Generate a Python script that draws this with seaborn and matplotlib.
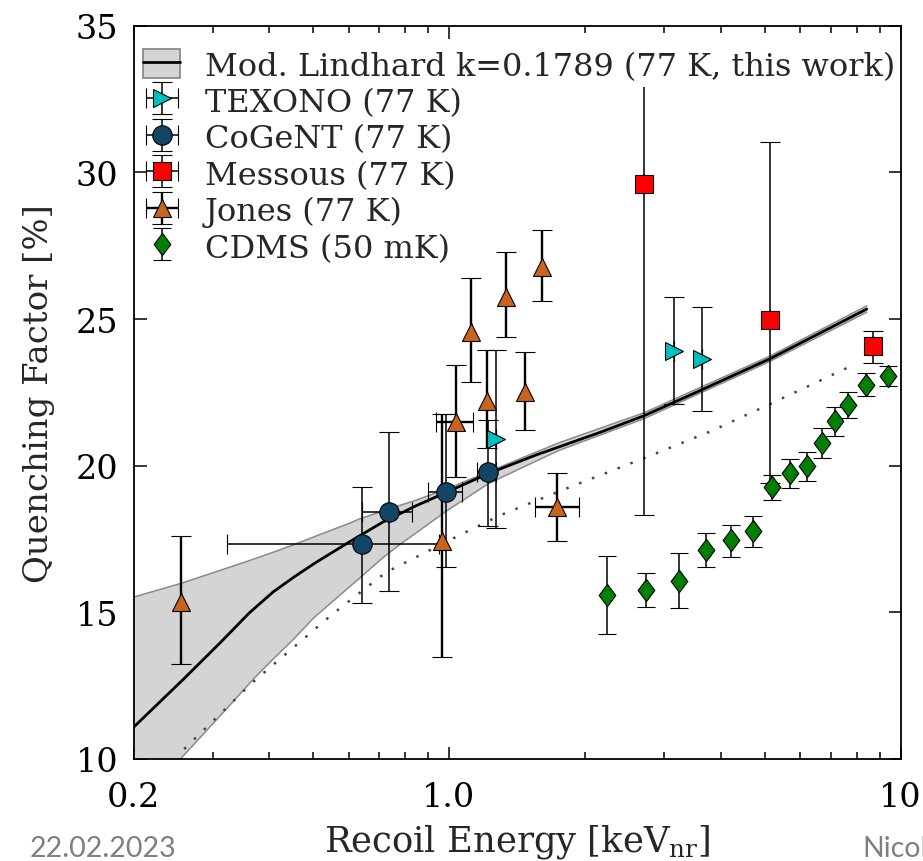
import numpy as np
import pandas as pd
import matplotlib
matplotlib.use("Agg")
import matplotlib.pyplot as plt
import seaborn as sns
from matplotlib.patches import Patch
from matplotlib.lines import Line2D
from matplotlib.ticker import FixedLocator, LogLocator, NullFormatter

sns.set_style("ticks")
plt.rcParams['font.family'] = ['DejaVu Serif']
plt.rcParams['mathtext.fontset'] = 'dejavuserif'

# model curve (keV_nr, %)
lind_e = [0.2, 0.258, 0.312, 0.361, 0.408, 0.455, 0.507, 0.600, 0.712, 0.844, 0.966, 1.216, 1.556, 2.146, 2.70, 3.40, 5.13, 8.42]
lind_q = [11.08, 12.72, 13.98, 14.98, 15.70, 16.22, 16.70, 17.39, 18.07, 18.63, 19.03, 19.72, 20.36, 21.12, 21.70, 22.39, 23.64, 25.34]

# uncertainty band of the model
band_e = [0.2, 0.254, 0.321, 0.37, 0.408, 0.45, 0.503, 0.6, 0.632, 0.712, 0.776, 0.844, 0.986, 1.226, 1.751, 2.70, 5.13, 8.42]
band_hi = [15.52, 15.98, 16.50, 16.82, 17.05, 17.29, 17.58, 18.03, 18.18, 18.45, 18.64, 18.82, 19.20, 19.80, 20.78, 21.80, 23.73, 25.45]
band_lo = [7.9, 10.0, 11.70, 12.75, 13.41, 14.05, 14.83, 15.85, 16.15, 16.85, 17.30, 17.70, 18.45, 19.40, 20.52, 21.60, 23.55, 25.23]

# dotted curve
dot_e = [0.259, 0.367, 0.552, 0.724, 1.052, 1.29, 1.858, 2.677, 3.824, 5.14, 7.80]
dot_q = [10.34, 12.61, 14.94, 16.36, 17.62, 18.29, 19.28, 20.23, 21.19, 22.10, 23.41]

# measurements: energy, QF, lower/upper ends of the error bars
texono_e = [1.27, 3.146, 3.635]
texono_q = [20.91, 23.92, 23.64]
texono_lo = [17.87, 22.10, 21.85]
texono_hi = [23.95, 25.76, 25.42]

cogent_e = [0.643, 0.737, 0.986, 1.222]
cogent_q = [17.33, 18.43, 19.11, 19.77]
cogent_lo = [15.32, 15.72, 16.53, 17.96]
cogent_hi = [19.28, 21.14, 21.76, 21.56]
cogent_elo = [0.322, 0.643, 0.896, 1.155]
cogent_ehi = [0.950, 0.828, 1.070, 1.268]

messous_e = [2.70, 5.13, 8.68]
messous_q = [29.60, 24.98, 24.07]
messous_lo = [18.32, 19.40, 23.50]
messous_hi = [32.90, 31.05, 24.60]

jones_e = [0.2549, 0.964, 1.035, 1.117, 1.215, 1.335, 1.473, 1.608, 1.736]
jones_q = [15.34, 17.44, 21.48, 24.55, 22.21, 25.74, 22.50, 26.76, 18.58]
jones_lo = [13.24, 13.47, 19.60, 22.86, 20.60, 24.38, 21.22, 25.62, 17.44]
jones_hi = [17.59, 21.76, 23.42, 26.39, 23.95, 27.30, 23.89, 28.03, 19.74]
jones_elo = [0.2549, 0.964, 0.934, 1.117, 1.215, 1.335, 1.473, 1.608, 1.550]
jones_ehi = [0.2549, 0.964, 1.130, 1.117, 1.215, 1.335, 1.473, 1.608, 1.940]

cdms_e = [2.233, 2.724, 3.228, 3.717, 4.222, 4.706, 5.19, 5.70, 6.20, 6.70, 7.17, 7.67, 8.38, 9.37]
cdms_q = [15.59, 15.77, 16.08, 17.13, 17.47, 17.78, 19.26, 19.75, 20.00, 20.77, 21.53, 22.07, 22.76, 23.07]
cdms_lo = [14.26, 15.19, 15.14, 16.53, 16.88, 17.24, 18.84, 19.23, 19.49, 20.26, 21.00, 21.62, 22.37, 22.73]
cdms_hi = [16.93, 16.33, 17.02, 17.70, 17.99, 18.27, 19.68, 20.23, 20.46, 21.27, 21.99, 22.52, 23.16, 23.39]

fig = plt.figure(figsize=(9.23, 8.62), dpi=100)
ax = fig.add_axes([133.5 / 923, 1 - 760 / 862, (900.5 - 133.5) / 923, (760 - 26.7) / 862])
ax.set_xscale('log')

# model band + curves
ax.fill_between(band_e, band_lo, band_hi, facecolor='#d4d4d4', edgecolor='none', zorder=1)
sns.lineplot(x=band_e, y=band_hi, color='#8a8a8a', lw=1.1, ax=ax, zorder=1.5)
sns.lineplot(x=band_e, y=band_lo, color='#8a8a8a', lw=1.1, ax=ax, zorder=1.5)
sns.lineplot(x=dot_e, y=dot_q, color='#444444', lw=1.8, linestyle=(0, (1, 4.5)), ax=ax, zorder=1.6)
sns.lineplot(x=lind_e, y=lind_q, color='k', lw=2.0, ax=ax, zorder=2)

diamond = [(0, 1), (0.75, 0), (0, -1), (-0.75, 0), (0, 1)]


def draw(e, q, lo, hi, marker, color, ms, label, elo=None, ehi=None, lw=1.1, cs=7):
    yerr = [np.subtract(q, lo), np.subtract(hi, q)]
    if elo is None:
        xerr = None
    else:
        xerr = [np.subtract(e, elo), np.subtract(ehi, e)]
    return ax.errorbar(e, q, xerr=xerr, yerr=yerr, fmt='', marker=marker, linestyle='none',
                       mfc=color, mec='k', mew=0.8, ms=ms, ecolor='k',
                       elinewidth=lw, capsize=cs, capthick=lw, label=label, zorder=4)


draw(texono_e, texono_q, texono_lo, texono_hi, '>', 'c', 13, 'TEXONO (77 K)',
     elo=texono_e, ehi=texono_e)
draw(cogent_e, cogent_q, cogent_lo, cogent_hi, 'o', '#124664', 14, 'CoGeNT (77 K)',
     elo=cogent_elo, ehi=cogent_ehi)
mess = draw(messous_e, messous_q, messous_lo, messous_hi, 's', 'r', 13, 'Messous (77 K)',
            elo=messous_e, ehi=messous_e)
draw(jones_e, jones_q, jones_lo, jones_hi, '^', '#c8641e', 13.5, 'Jones (77 K)',
     elo=jones_elo, ehi=jones_ehi, lw=1.7)
draw(cdms_e, cdms_q, cdms_lo, cdms_hi, diamond, 'green', 16, 'CDMS (50 mK)', cs=6.5)

# the first Messous bar runs on behind the legend: no upper cap there
for cap in mess[1]:
    yd = np.asarray(cap.get_ydata(), dtype=float)
    if len(yd) == len(messous_hi) and np.allclose(yd, messous_hi):
        cap.set_markevery(list(range(1, len(yd))))

handles, labels = ax.get_legend_handles_labels()
band_handle = (Patch(facecolor='#d4d4d4', edgecolor='#8a8a8a', lw=1.3),
               Line2D([], [], color='k', lw=2.0))
leg = ax.legend([band_handle] + handles,
                ['Mod. Lindhard k=0.1789 (77 K, this work)'] + labels,
                loc='upper left', bbox_to_anchor=(0.0046, 0.9764), frameon=False,
                fontsize=23, handlelength=1.15, handleheight=1.0, handletextpad=0.78,
                labelspacing=0.13, borderaxespad=0.0, borderpad=0.2)

ax.set_xlim(0.2, 10)
ax.set_ylim(10, 35)
ax.xaxis.set_major_locator(FixedLocator([0.2, 1.0, 10]))
ax.set_xticklabels(['0.2', '1.0', '10'])
ax.xaxis.set_minor_locator(LogLocator(base=10, subs=np.arange(2, 10), numticks=20))
ax.xaxis.set_minor_formatter(NullFormatter())
ax.set_yticks([10, 15, 20, 25, 30, 35])
ax.tick_params(which='both', direction='in', top=True, right=True, labelsize=24,
               width=1.1, color='k', labelcolor='k')
ax.tick_params(axis='x', pad=16)
ax.tick_params(axis='y', pad=11)
ax.tick_params(which='major', length=9)
ax.tick_params(which='minor', length=5)
for s in ax.spines.values():
    s.set_color('k')
    s.set_linewidth(1.3)

ax.set_xlabel('Recoil Energy [keV$_{\\rm nr}$]', fontsize=25.5, labelpad=6)
ax.set_ylabel('Quenching Factor [%]', fontsize=24.5, labelpad=15)

fig.text(30 / 923, 1 - 857 / 862, '22.02.2023', family='Lato', fontsize=20.5,
         color='#7f7f7f', va='baseline')
fig.text(862 / 923, 1 - 857 / 862, 'Nicol', family='Lato', fontsize=20.5,
         color='#7f7f7f', va='baseline')

fig.savefig('out.png', dpi=100)
